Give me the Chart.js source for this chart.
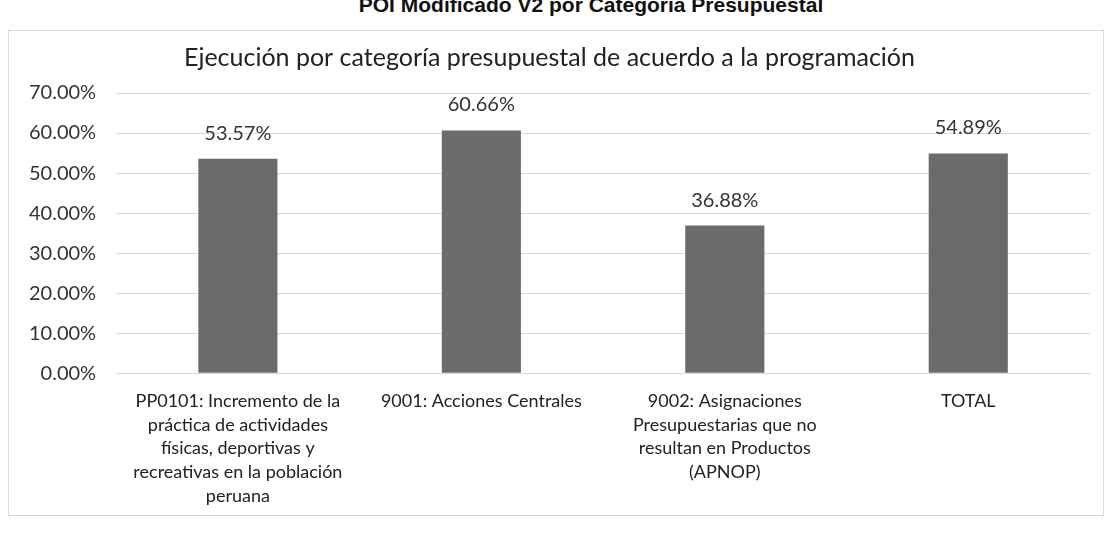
<!DOCTYPE html>
<html>
<head>
<meta charset="utf-8">
<script src="https://cdn.jsdelivr.net/npm/chart.js@4.4.0/dist/chart.umd.min.js"></script>
<style>
  html, body { margin: 0; padding: 0; background: #fff; }
  body { width: 1110px; height: 536px; position: relative; overflow: hidden; }
  #heading {
    position: absolute; left: 36px; width: 1110px; top: -7px; text-align: center;
    font: bold 21px "Liberation Sans", Arial, sans-serif; color: #111;
  }
  #frame {
    position: absolute; left: 8px; top: 30px; width: 1096px; height: 486px;
    border: 1px solid #d9d9d9; box-sizing: border-box;
  }
  #wrap {
    position: absolute; left: 6px; top: 30px; width: 1098px; height: 492px;
  }
</style>
</head>
<body>
<div id="heading">POI Modificado V2 por Categoría Presupuestal</div>
<div id="frame"></div>
<div id="wrap"><canvas id="chart"></canvas></div>
<script>
// Data
const categories = [
  ["PP0101: Incremento de la", "práctica de actividades", "físicas, deportivas y", "recreativas en la población", "peruana"],
  "9001: Acciones Centrales",
  ["9002: Asignaciones", "Presupuestarias que no", "resultan en Productos", "(APNOP)"],
  "TOTAL",
];
const ejecucion = [53.57, 60.66, 36.88, 54.89];
const chartTitle = "Ejecución por categoría presupuestal de acuerdo a la programación";

const FONT = "Lato, 'Open Sans', sans-serif";

// Labels above bars
const valueLabels = {
  id: "valueLabels",
  afterDatasetsDraw(chart) {
    const ctx = chart.ctx;
    const meta = chart.getDatasetMeta(0);
    ctx.save();
    ctx.font = "20px " + FONT;
    ctx.fillStyle = "#333";
    ctx.textAlign = "center";
    ctx.textBaseline = "alphabetic";
    meta.data.forEach((bar, i) => {
      ctx.fillText(ejecucion[i].toFixed(2) + "%", bar.x, bar.y - 19);
    });
    ctx.restore();
  },
};

const ctx = document.getElementById("chart").getContext("2d");
new Chart(ctx, {
  type: "bar",
  data: {
    labels: categories,
    datasets: [
      {
        data: ejecucion,
        backgroundColor: "#6b6b6b",
        borderWidth: 0,
        barPercentage: 0.65,
        categoryPercentage: 0.5,
      },
    ],
  },
  options: {
    responsive: true,
    maintainAspectRatio: false,
    animation: false,
    layout: { padding: { left: 3, right: 14, top: 0, bottom: 6 } },
    plugins: {
      legend: { display: false },
      tooltip: { enabled: false },
      title: {
        display: true,
        text: chartTitle,
        color: "#222",
        font: { family: FONT, size: 25, weight: "normal" },
        padding: { top: 13, bottom: 20 },
      },
    },
    scales: {
      y: {
        min: 0,
        max: 70,
        ticks: {
          stepSize: 10,
          color: "#333",
          font: { family: FONT, size: 20 },
          padding: 20,
          callback: (v) => v.toFixed(2) + "%",
        },
        grid: { color: "#d9d9d9", drawTicks: false },
        border: { display: false },
      },
      x: {
        ticks: {
          color: "#222",
          font: { family: FONT, size: 18, lineHeight: 1.32 },
          maxRotation: 0,
          autoSkip: false,
          padding: 8,
        },
        grid: { display: false },
        border: { color: "#d9d9d9" },
      },
    },
  },
  plugins: [valueLabels],
});
</script>
</body>
</html>
